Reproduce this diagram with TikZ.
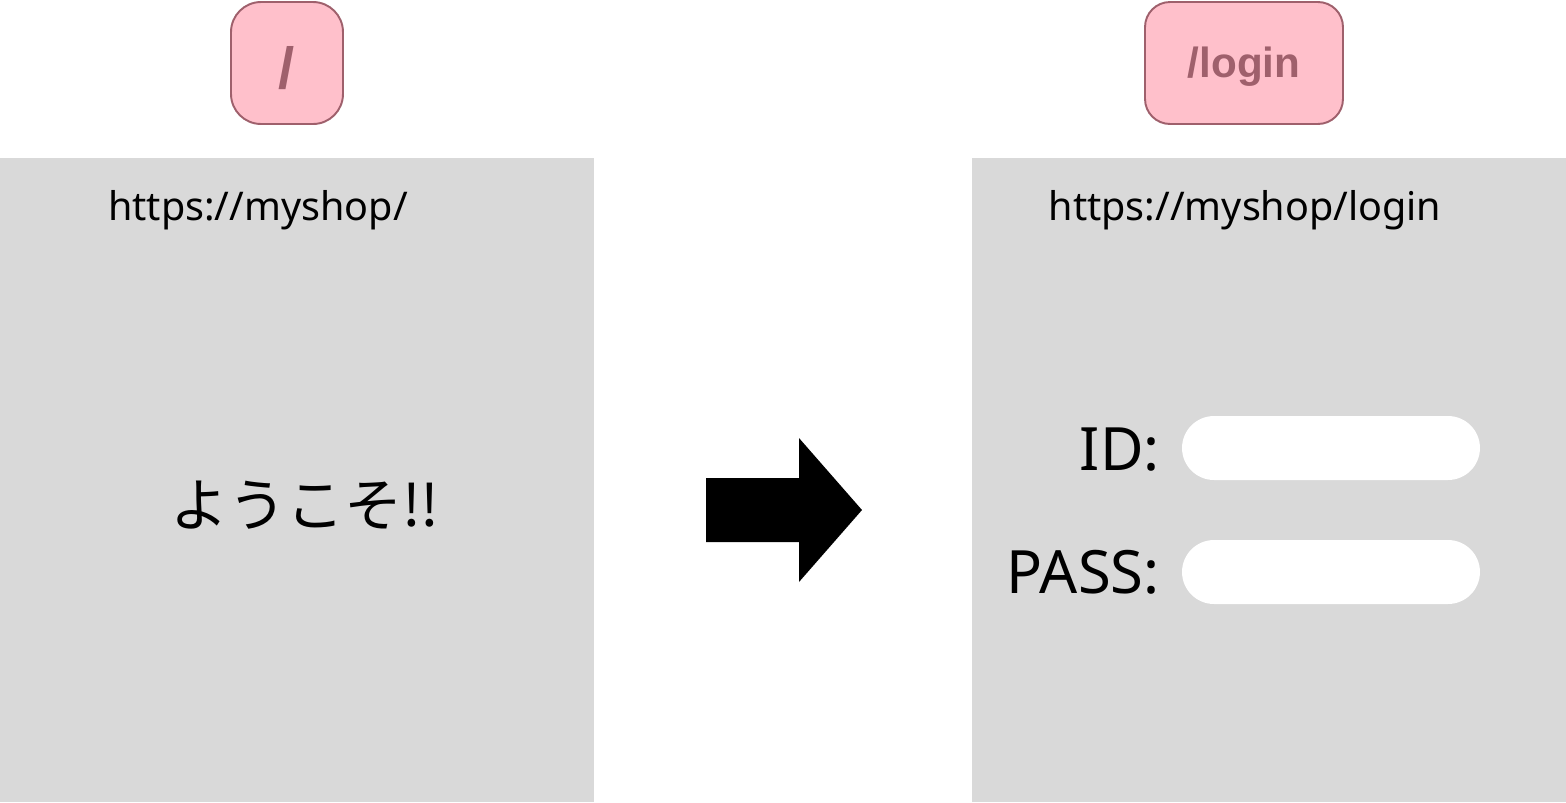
\documentclass[tikz,border=0pt]{standalone}
\usepackage{fontspec}
\setmainfont{Noto Sans}
\newfontfamily\jpfont{Noto Sans CJK JP}
\newfontfamily\routefont{Liberation Sans}
\usetikzlibrary{positioning}
\definecolor{panelgray}{HTML}{D9D9D9}
\definecolor{routepink}{HTML}{FFC0CB}
\definecolor{routeline}{HTML}{9F606C}

\tikzset{
  page/.style={fill=panelgray, draw=none, minimum width=11.88cm, minimum height=12.88cm, inner sep=0pt},
  route/.style={fill=routepink, draw=routeline, line width=1.1pt, minimum height=2.44cm, inner sep=0pt},
  routename/.style={inner sep=0pt, text=routeline, font=\routefont\bfseries\fontsize{24}{28}\selectfont},
  url/.style={font=\fontsize{22.5}{27}\selectfont, inner sep=0pt},
  field/.style={fill=white, rounded corners=0.64cm, minimum width=5.96cm, minimum height=1.28cm, inner sep=0pt},
  fieldname/.style={font=\fontsize{34}{40}\selectfont, inner sep=0pt, anchor=east}
}

\begin{document}
\begin{tikzpicture}[x=0.02cm,y=-0.02cm]
    \useasboundingbox (0,0) rectangle (1566,802);
    % pages
    \node[page] (home)  at (297,480) {};
    \node[page] (login) at (1269,480) {};
    % routes
    \node[route, rounded corners=0.6cm, minimum width=2.24cm] (rootroute) at (287,63) {};
    \node[route, rounded corners=0.5cm, minimum width=3.96cm] (loginroute) at (1244,63) {};
    \node[routename, font=\routefont\bfseries\fontsize{33}{38}\selectfont] (rootname) at (287,68) {/};
    \node[routename] (loginname) at (1244,67) {/login};
    % address bars
    \node[url] (homeurl)  at (258,210) {https://myshop/};
    \node[url] (loginurl) at (1245,210) {https://myshop/login};
    % home page body
    \node[inner sep=0pt, font=\jpfont\fontsize{33}{40}\selectfont] (welcome) at (305,505) {ようこそ!!};
    % login form
    \node[field] (idfield)   at (1331,448) {};
    \node[field] (passfield) at (1331,572) {};
    \node[fieldname] (idname)   at (1160,450) {ID:};
    \node[fieldname] (passname) at (1160,572) {PASS:};
    % transition
    \fill[black] (706,478) -- (799,478) -- (799,438) -- (862,510)
      -- (799,582) -- (799,542) -- (706,542) -- cycle;
\end{tikzpicture}
\end{document}
